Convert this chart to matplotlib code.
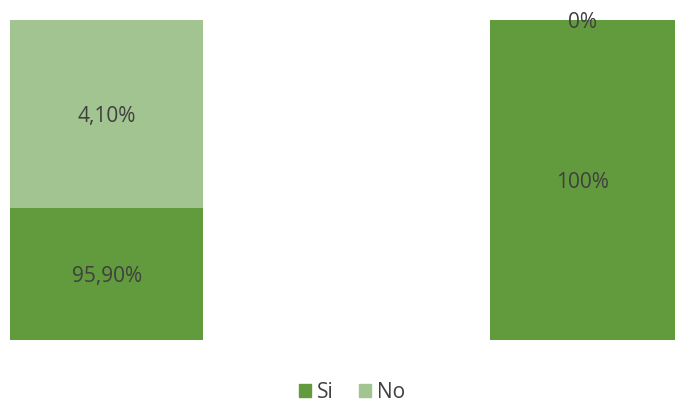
import matplotlib
matplotlib.use("Agg")
import matplotlib.pyplot as plt
from matplotlib.patches import Patch
import numpy as np

# datos (alturas, etiquetas tal cual)
categorias = ["A", "B"]
si_valores = [41.25, 100]
no_valores = [58.75, 0]
si_etiquetas = ["95,90%", "100%"]
no_etiquetas = ["4,10%", "0%"]
series = ["Si", "No"]

verde_oscuro = "#629A3E"
verde_claro = "#A2C490"
color_texto = "#404040"

plt.rcParams['font.family'] = ['Open Sans', 'DejaVu Sans']

fig = plt.figure(figsize=(6.75, 4.01), dpi=100)
ax = fig.add_axes([0, 0.152, 1, 0.798])

x = np.arange(len(categorias))
ancho = 0.402
b1 = ax.bar(x, si_valores, ancho, color=verde_oscuro)
b2 = ax.bar(x, no_valores, ancho, bottom=si_valores, color=verde_claro)

textos = ax.bar_label(b1, labels=si_etiquetas, label_type='center', fontsize=15, color=color_texto)
textos += ax.bar_label(b2, labels=no_etiquetas, label_type='center', fontsize=15, color=color_texto)
for t in textos:
    t.xyann = (0, -2)  # un poco más abajo, como en el original

ax.set_xlim(-0.222, 1.184)
ax.set_ylim(0, 100)
ax.axis('off')

handles = [Patch(color=verde_oscuro), Patch(color=verde_claro)]
fig.legend(handles, series, loc='center', bbox_to_anchor=(352 / 675, 1 - 392 / 401),
           ncol=2, frameon=False, fontsize=15, handlelength=0.58, handleheight=0.58,
           handletextpad=0.3, columnspacing=1.2, labelcolor=color_texto)

fig.savefig("out.png", dpi=100)
